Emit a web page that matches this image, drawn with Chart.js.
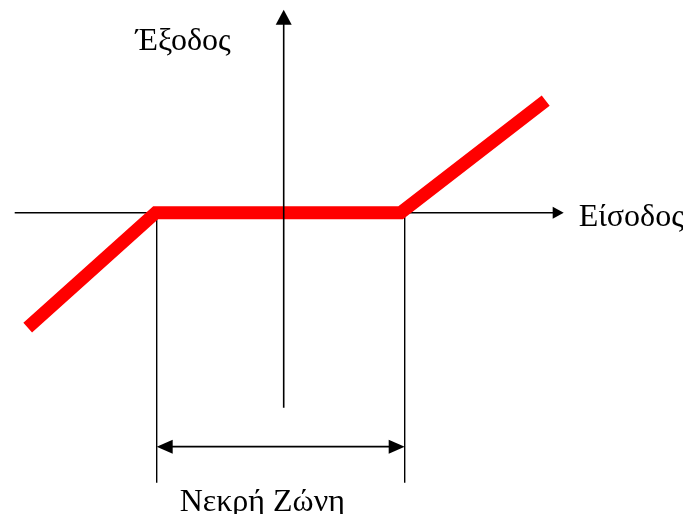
<!DOCTYPE html>
<html>
<head>
<meta charset="utf-8">
<script src="https://cdn.jsdelivr.net/npm/chart.js@4.4.1/dist/chart.umd.min.js"></script>
<style>
html,body{margin:0;padding:0;background:#fff;}
#wrap{width:683px;height:514px;}
</style>
</head>
<body>
<div id="wrap"><canvas id="c" width="683" height="514"></canvas></div>
<script>
// Input / output of the dead-zone characteristic (units: drawing units)
const inputValues  = [-256, -128, 117, 262];
const outputValues = [-115, 0, 0, 112];
// Dead zone bounds
const deadZone = [-127, 121];
// Axis extents
const xAxisRange = [-269, 280];
const yAxisRange = [-195, 203];
const markerBottom = -270;
const bracketLevel = -234;
// Labels
const outputLabel = 'Έξοδος';
const inputLabel = 'Είσοδος';
const zoneLabel = 'Νεκρή Ζώνη';

const points = inputValues.map((x, i) => ({x: x, y: outputValues[i]}));

function arrowHead(ctx, tx, ty, dx, dy, len, half) {
  const bx = tx - dx * len, by = ty - dy * len;
  const px = -dy, py = dx;
  ctx.beginPath();
  ctx.moveTo(tx, ty);
  ctx.lineTo(bx + px * half, by + py * half);
  ctx.lineTo(bx - px * half, by - py * half);
  ctx.closePath();
  ctx.fill();
}

const diagramPlugin = {
  id: 'diagram',
  beforeDatasetsDraw(chart) {
    const ctx = chart.ctx;
    const xs = chart.scales.x, ys = chart.scales.y;
    const X = v => xs.getPixelForValue(v);
    const Y = v => ys.getPixelForValue(v);
    ctx.save();
    ctx.strokeStyle = '#000';
    ctx.fillStyle = '#000';
    ctx.lineWidth = 1.6;
    // horizontal axis
    ctx.beginPath();
    ctx.moveTo(X(xAxisRange[0]), Y(0));
    ctx.lineTo(X(xAxisRange[1]) - 8, Y(0));
    ctx.stroke();
    arrowHead(ctx, X(xAxisRange[1]), Y(0), 1, 0, 11, 6);
    // dead-zone marker lines
    ctx.lineWidth = 1.4;
    deadZone.forEach(v => {
      ctx.beginPath();
      ctx.moveTo(X(v), Y(0));
      ctx.lineTo(X(v), Y(markerBottom));
      ctx.stroke();
    });
    // double arrow
    const l = X(deadZone[0]), r = X(deadZone[1]), yb = Y(bracketLevel);
    ctx.lineWidth = 1.8;
    ctx.beginPath();
    ctx.moveTo(l + 10, yb);
    ctx.lineTo(r - 10, yb);
    ctx.stroke();
    arrowHead(ctx, l, yb, -1, 0, 16, 7);
    arrowHead(ctx, r, yb, 1, 0, 16, 7);
    // labels
    ctx.font = '32px "Liberation Serif", "Times New Roman", serif';
    ctx.textBaseline = 'alphabetic';
    ctx.textAlign = 'left';
    ctx.fillText(outputLabel, X(-148), Y(163));
    ctx.fillText(inputLabel, X(295), Y(-13));
    ctx.fillText(zoneLabel, X(-104), Y(-298));
    ctx.restore();
  },
  afterDatasetsDraw(chart) {
    const ctx = chart.ctx;
    const xs = chart.scales.x, ys = chart.scales.y;
    const X = v => xs.getPixelForValue(v);
    const Y = v => ys.getPixelForValue(v);
    ctx.save();
    ctx.strokeStyle = '#000';
    ctx.fillStyle = '#000';
    ctx.lineWidth = 1.6;
    // vertical axis (drawn above the red characteristic)
    ctx.beginPath();
    ctx.moveTo(X(0), Y(yAxisRange[0]));
    ctx.lineTo(X(0), Y(yAxisRange[1]) + 10);
    ctx.stroke();
    arrowHead(ctx, X(0), Y(yAxisRange[1]), 0, -1, 15, 8);
    ctx.restore();
  }
};

new Chart(document.getElementById('c'), {
  type: 'scatter',
  data: {
    datasets: [{
      data: points,
      showLine: true,
      borderColor: '#ff0000',
      backgroundColor: '#ff0000',
      borderWidth: 13,
      borderCapStyle: 'butt',
      borderJoinStyle: 'miter',
      pointRadius: 0,
      pointHoverRadius: 0,
      tension: 0
    }]
  },
  options: {
    responsive: false,
    devicePixelRatio: 1,
    animation: false,
    layout: {padding: 0},
    plugins: {legend: {display: false}, tooltip: {enabled: false}},
    scales: {
      x: {type: 'linear', display: false, min: -283.7, max: 399.3},
      y: {type: 'linear', display: false, min: -301.3, max: 212.7}
    }
  },
  plugins: [diagramPlugin]
});
</script>
</body>
</html>
